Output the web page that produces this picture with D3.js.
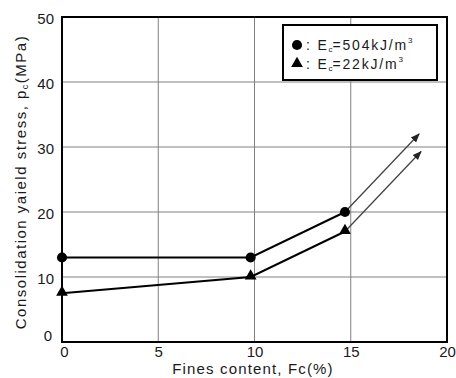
<!DOCTYPE html>
<html>
<head>
<meta charset="utf-8">
<script src="https://cdn.jsdelivr.net/npm/d3@7"></script>
<style>
  body { margin: 0; background: #fff; }
  svg text { font-family: "Liberation Sans", Arial, sans-serif; fill: #1a1a1a; }
</style>
</head>
<body>
<svg id="chart" width="456" height="378"></svg>
<script>
// Fines content (%) and consolidation yield stress (MPa)
const fines = [0, 9.8, 14.7];
const stressHigh = [13, 13, 20];   // Ec = 504 kJ/m3
const stressLow = [7.5, 10, 17];   // Ec = 22 kJ/m3
// trend arrow tips continuing each series
const arrowHigh = [[14.7, 20], [18.55, 32]];
const arrowLow = [[14.7, 17], [18.65, 29.3]];
const xTicks = [0, 5, 10, 15, 20];
const yTicks = [0, 10, 20, 30, 40, 50];
const legendLabels = [
  { sym: "circle", pre: " : E", sub: "c", post: "=504kJ/m", sup: "3" },
  { sym: "triangle", pre: " : E", sub: "c", post: "=22kJ/m", sup: "3" }
];

const svg = d3.select("#chart");
const m = { left: 62, right: 447, top: 17, bottom: 342 };
const x = d3.scaleLinear().domain([0, 20]).range([m.left, m.right]);
const y = d3.scaleLinear().domain([0, 50]).range([m.bottom, m.top]);

// grid
const grid = svg.append("g").attr("stroke", "#808080").attr("stroke-width", 1);
xTicks.slice(1, -1).forEach(t => grid.append("line")
  .attr("x1", x(t)).attr("x2", x(t)).attr("y1", m.top).attr("y2", m.bottom));
yTicks.slice(1, -1).forEach(t => grid.append("line")
  .attr("x1", m.left).attr("x2", m.right).attr("y1", y(t)).attr("y2", y(t)));

// axes tick labels
const xAxis = svg.append("g").attr("transform", `translate(0,${m.bottom})`)
  .call(d3.axisBottom(x).tickValues(xTicks).tickSize(0).tickPadding(4));
xAxis.select(".domain").remove();
xAxis.selectAll("text").attr("font-size", 15).attr("dy", "0.75em")
  .attr("dx", d => d === 0 ? 2 : 0);

const yAxis = svg.append("g").attr("transform", `translate(${m.left},0)`)
  .call(d3.axisLeft(y).tickValues(yTicks).tickSize(0).tickPadding(8));
yAxis.select(".domain").remove();
yAxis.selectAll("text").attr("font-size", 15).attr("dy", "0.45em");
yAxis.selectAll(".tick").filter(d => d === 0).select("text")
  .attr("dy", "-0.1em").attr("dx", -2);

// frame
svg.append("rect").attr("x", m.left).attr("y", m.top)
  .attr("width", m.right - m.left).attr("height", m.bottom - m.top)
  .attr("fill", "none").attr("stroke", "#000").attr("stroke-width", 2);

// axis titles
svg.append("text").attr("x", 253).attr("y", 374)
  .attr("text-anchor", "middle").attr("font-size", 15).attr("letter-spacing", 1.15)
  .text("Fines content, Fc(%)");
const yt = svg.append("text")
  .attr("transform", `translate(26,182) rotate(-90)`)
  .attr("text-anchor", "middle").attr("font-size", 15).attr("letter-spacing", 1.5);
yt.append("tspan").text("Consolidation yaield stress, p");
yt.append("tspan").attr("font-size", 9).attr("dy", 2).text("c");
yt.append("tspan").attr("dy", -2).text("(MPa)");

// arrowhead
svg.append("defs").append("marker").attr("id", "arr")
  .attr("viewBox", "0 0 10 10").attr("refX", 9).attr("refY", 5)
  .attr("markerWidth", 7).attr("markerHeight", 7).attr("orient", "auto")
  .append("path").attr("d", "M0,1 L10,5 L0,9 Z").attr("fill", "#222");

const line = d3.line().x(d => x(d[0])).y(d => y(d[1]));
[arrowHigh, arrowLow].forEach(a => svg.append("path")
  .attr("d", line(a)).attr("fill", "none").attr("stroke", "#444")
  .attr("stroke-width", 1.3).attr("marker-end", "url(#arr)"));

// series lines
[stressHigh, stressLow].forEach(s => svg.append("path")
  .attr("d", line(fines.map((f, i) => [f, s[i]])))
  .attr("fill", "none").attr("stroke", "#000").attr("stroke-width", 2));

// markers
const circ = d3.symbol().type(d3.symbolCircle).size(80);
const tri = d3.symbol().type(d3.symbolTriangle).size(60);
fines.forEach((f, i) => {
  svg.append("path").attr("d", circ()).attr("fill", "#000")
    .attr("transform", `translate(${x(f)},${y(stressHigh[i])})`);
  svg.append("path").attr("d", tri()).attr("fill", "#000")
    .attr("transform", `translate(${x(f)},${y(stressLow[i]) - 1})`);
});

// legend
const lg = svg.append("g");
lg.append("rect").attr("x", 283).attr("y", 25).attr("width", 154).attr("height", 55)
  .attr("fill", "#fff").attr("stroke", "#000").attr("stroke-width", 2);
legendLabels.forEach((d, i) => {
  const cy = 45 + i * 18.5;
  lg.append("path").attr("d", (d.sym === "circle" ? circ : tri)())
    .attr("fill", "#000").attr("transform", `translate(297,${cy})`);
  const t = lg.append("text").attr("x", 306).attr("y", cy + 5).attr("font-size", 14)
    .attr("letter-spacing", 1.8);
  t.append("tspan").text(d.pre);
  t.append("tspan").attr("font-size", 8).attr("dy", 2).attr("letter-spacing", 0).text(d.sub);
  t.append("tspan").attr("dy", -2).text(d.post);
  t.append("tspan").attr("font-size", 8).attr("dy", -7).text(d.sup);
});
</script>
</body>
</html>
